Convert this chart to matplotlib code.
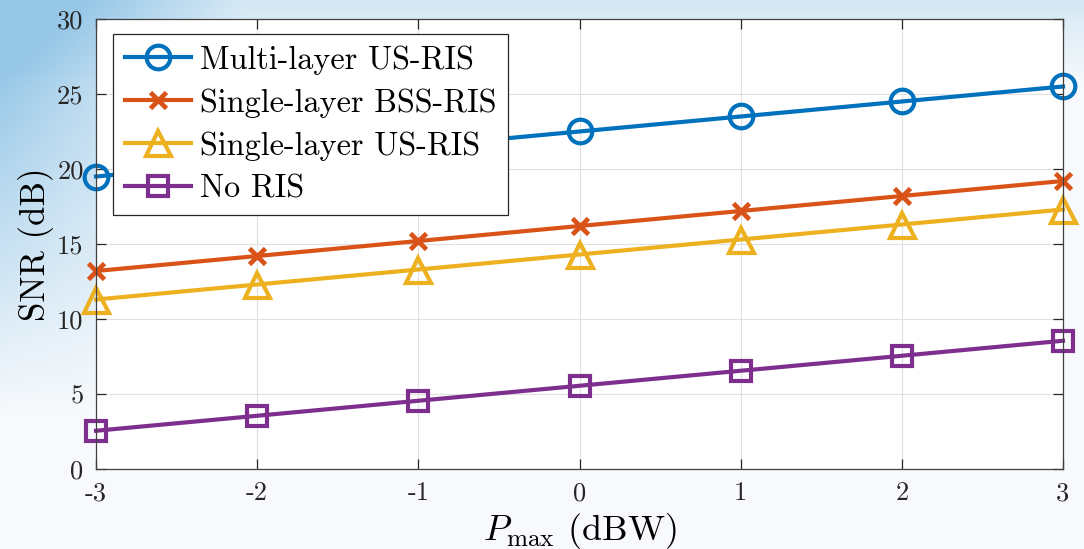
import numpy as np
import matplotlib
matplotlib.use("Agg")
import matplotlib.pyplot as plt

plt.rcParams['font.family'] = ['cmr10', 'DejaVu Serif']
plt.rcParams['mathtext.fontset'] = 'cm'
plt.rcParams['axes.unicode_minus'] = False

p_max = [-3, -2, -1, 0, 1, 2, 3]
multi_us = [19.5, 20.5, 21.5, 22.5, 23.5, 24.5, 25.5]
single_bss = [13.2, 14.2, 15.2, 16.2, 17.2, 18.2, 19.2]
single_us = [11.3, 12.3, 13.3, 14.3, 15.3, 16.3, 17.3]
no_ris = [2.55, 3.55, 4.55, 5.55, 6.55, 7.55, 8.55]
labels = ['Multi-layer US-RIS', 'Single-layer BSS-RIS', 'Single-layer US-RIS', 'No RIS']
xtick_labels = ['-3', '-2', '-1', '0', '1', '2', '3']
yticks = [0, 5, 10, 15, 20, 25, 30]
ytick_labels = ['0', '5', '10', '15', '20', '25', '30']

fig = plt.figure(figsize=(10.84, 5.49), dpi=100)

# background sky-like gradient
bg = fig.add_axes([0, 0, 1, 1], zorder=-10)
bg.axis('off')
H, W = 110, 220
yy, xx = np.mgrid[0:H, 0:W]
xn = xx / W
yn = yy / H
blue = np.array([0.55, 0.76, 0.90])
white = np.array([0.97, 0.98, 0.99])
w = np.clip(1.0 - xn * 4.5, 0, 1) * np.clip(1.2 - yn * 1.6, 0, 1)
w = np.clip(w + 0.35 * np.clip(0.15 - yn, 0, 1) / 0.15, 0, 1) * 0.9
img = white[None, None, :] * (1 - w[..., None]) + blue[None, None, :] * w[..., None]
bg.imshow(img, extent=[0, 1, 0, 1], aspect='auto', interpolation='bicubic')
bg.set_xlim(0, 1); bg.set_ylim(0, 1)

ax = fig.add_axes([0.0886, 0.1457, 0.892, 0.8197])
ax.set_facecolor('white')
lw = 3.0
ax.plot(p_max, multi_us, color='#0072BD', lw=lw, marker='o', ms=17, mfc='none', mew=3.0, label=labels[0], clip_on=False)
ax.plot(p_max, single_bss, color='#D95319', lw=lw, marker='x', ms=12, mew=3.4, label=labels[1], clip_on=False)
ax.plot(p_max, single_us, color='#EDB120', lw=lw, marker='^', ms=18, mfc='none', mew=3.0, label=labels[2], clip_on=False)
ax.plot(p_max, no_ris, color='#7E2F8E', lw=lw, marker='s', ms=15, mfc='none', mew=3.0, label=labels[3], clip_on=False)

ax.set_xlim(-3, 3)
ax.set_ylim(0, 30)
ax.set_xticks(p_max)
ax.set_xticklabels(xtick_labels)
ax.set_yticks(yticks)
ax.set_yticklabels(ytick_labels)
ax.tick_params(direction='in', length=7, width=0.9, colors='#262626', labelsize=19, top=True, right=True, pad=9)
ax.grid(True, color='#e0e0e0', lw=0.8)
ax.set_axisbelow(True)
for s in ax.spines.values():
    s.set_color('#404040')
    s.set_linewidth(0.9)

ax.set_xlabel(r'$P_{\max}$ (dBW)', fontsize=26, labelpad=4)
ax.set_ylabel('SNR (dB)', fontsize=25, labelpad=2)

leg = ax.legend(loc='upper left', bbox_to_anchor=(0.018, 0.967), fontsize=23.2, frameon=True, fancybox=False,
                edgecolor='#262626', framealpha=1, handlelength=2.05, handletextpad=0.3, borderpad=0.35,
                labelspacing=0.42, borderaxespad=0)
leg.get_frame().set_linewidth(0.9)

fig.savefig('out.png', dpi=100)
